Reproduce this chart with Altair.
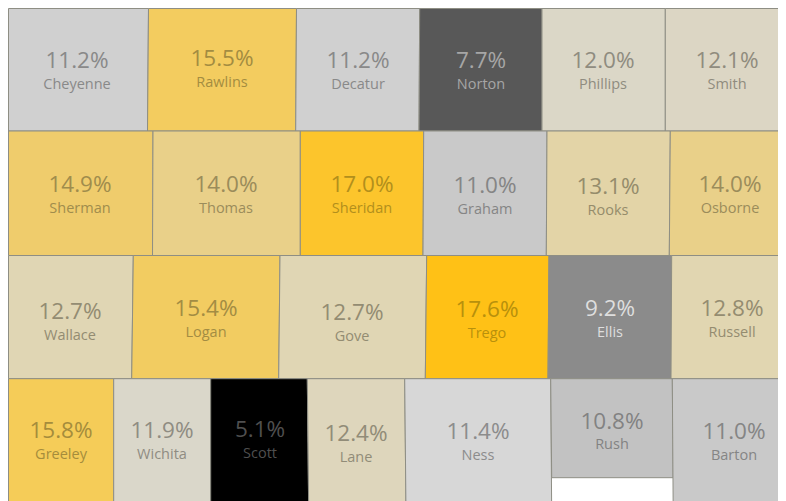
import altair as alt

# County rates, row by row
names = [
    ["Cheyenne", "Rawlins", "Decatur", "Norton", "Phillips", "Smith"],
    ["Sherman", "Thomas", "Sheridan", "Graham", "Rooks", "Osborne"],
    ["Wallace", "Logan", "Gove", "Trego", "Ellis", "Russell"],
    ["Greeley", "Wichita", "Scott", "Lane", "Ness", "Rush", "Barton"],
]
rates = [
    [11.2, 15.5, 11.2, 7.7, 12.0, 12.1],
    [14.9, 14.0, 17.0, 11.0, 13.1, 14.0],
    [12.7, 15.4, 12.7, 17.6, 9.2, 12.8],
    [15.8, 11.9, 5.1, 12.4, 11.4, 10.8, 11.0],
]
# Tile map boundaries (map units), per row
row_y = [8.5, 131, 255.5, 378.7, 512]
edges_top = [
    [8.5, 148.5, 296.5, 419.7, 542, 665.3, 795],
    [8.5, 153, 300.3, 423.7, 547, 670.3, 795],
    [8.5, 133.3, 280, 426.7, 549, 671.7, 795],
    [8.5, 113.7, 210.7, 307.3, 404.7, 550.7, 672.3, 795],
]
edges_bottom = [
    [8.5, 147.5, 295.7, 419, 542, 665.3, 795],
    [8.5, 152.5, 300.3, 423, 546.3, 669.3, 795],
    [8.5, 131.7, 278.7, 425.3, 548, 671, 795],
    [8.5, 113.7, 210.7, 308.7, 406, 551.7, 673.2, 795],
]
rush_bottom = 477.7
# Label anchors
label_x = [
    [77, 222, 358, 481, 603, 727],
    [80, 226, 362, 485, 608, 730],
    [70, 206, 352, 487, 610, 732],
    [61, 162, 260, 356, 478, 612, 734],
]
value_y = [
    [60, 58, 60, 60, 60, 60],
    [184, 184, 184, 185, 186, 184],
    [311, 308, 312, 309, 308, 308],
    [430, 430, 429, 433, 431, 421, 431],
]
name_y = [
    [84, 82, 84, 84, 84, 84],
    [208, 208, 208, 209, 210, 208],
    [335, 332, 336, 333, 332, 332],
    [454, 454, 453, 457, 455, 444, 455],
]

tile_rows, labels = [], []
for r, row in enumerate(names):
    for i, name in enumerate(row):
        top, bottom = row_y[r], row_y[r + 1]
        if name == "Rush":
            bottom = rush_bottom
        tile_rows.append({"county": name, "rate": rates[r][i], "y": top,
                          "xl": edges_top[r][i], "xr": edges_top[r][i + 1]})
        tile_rows.append({"county": name, "rate": rates[r][i], "y": bottom,
                          "xl": edges_bottom[r][i], "xr": edges_bottom[r][i + 1]})
        labels.append({
            "county": name,
            "rate": rates[r][i],
            "pct": f"{rates[r][i]:.1f}%",
            "lx": label_x[r][i],
            "vy": value_y[r][i],
            "ny": name_y[r][i],
        })

x_scale = alt.Scale(domain=[8, 778], nice=False, zero=False)
y_scale = alt.Scale(domain=[8, 501], nice=False, zero=False, reverse=True)

fill_scale = alt.Scale(
    domain=[5.1, 7.7, 9.2, 11.4, 12.7, 14.9, 15.8, 17.6],
    range=["#000000", "#585858", "#8b8b8b", "#d7d7d7", "#e0d6b4",
           "#efcc6c", "#f5cc58", "#ffc116"],
    interpolate="rgb",
)
ink_scale = alt.Scale(
    domain=[5.1, 7.7, 9.2, 10.8, 11.4, 12.7, 15.8, 17.6],
    range=["#4f4f4f", "#a6a6a6", "#dedede", "#828282", "#8c8c8c", "#938c72",
           "#a58c3c", "#b8900c"],
    interpolate="rgb",
)

tiles = (
    alt.Chart(alt.InlineData(values=tile_rows))
    .mark_area(orient="horizontal", stroke="#8e8e84", strokeWidth=1, opacity=1, clip=True)
    .encode(
        y=alt.Y("y:Q", scale=y_scale, axis=None),
        x=alt.X("xl:Q", scale=x_scale, axis=None),
        x2="xr:Q",
        detail="county:N",
        color=alt.Color("rate:Q", scale=fill_scale, legend=None),
    )
)

label_data = alt.InlineData(values=labels)
value_text = (
    alt.Chart(label_data)
    .mark_text(font="Open Sans", fontSize=22.5, align="center", baseline="middle", dy=1)
    .encode(
        x=alt.X("lx:Q", scale=x_scale, axis=None),
        y=alt.Y("vy:Q", scale=y_scale, axis=None),
        text="pct:N",
        color=alt.Color("rate:Q", scale=ink_scale, legend=None),
    )
)
name_text = (
    alt.Chart(label_data)
    .mark_text(font="Open Sans", fontSize=14.5, align="center", baseline="middle", dy=1)
    .encode(
        x=alt.X("lx:Q", scale=x_scale, axis=None),
        y=alt.Y("ny:Q", scale=y_scale, axis=None),
        text="county:N",
        color=alt.Color("rate:Q", scale=ink_scale, legend=None),
    )
)

chart = (
    alt.layer(tiles, value_text, name_text)
    .resolve_scale(color="independent")
    .properties(
        width=770,
        height=493,
        padding=0,
        autosize=alt.AutoSizeParams(type="none"),
    )
    .configure_view(stroke=None)
)
chart.save("out.html", embed_options={"renderer": "svg", "actions": False})
